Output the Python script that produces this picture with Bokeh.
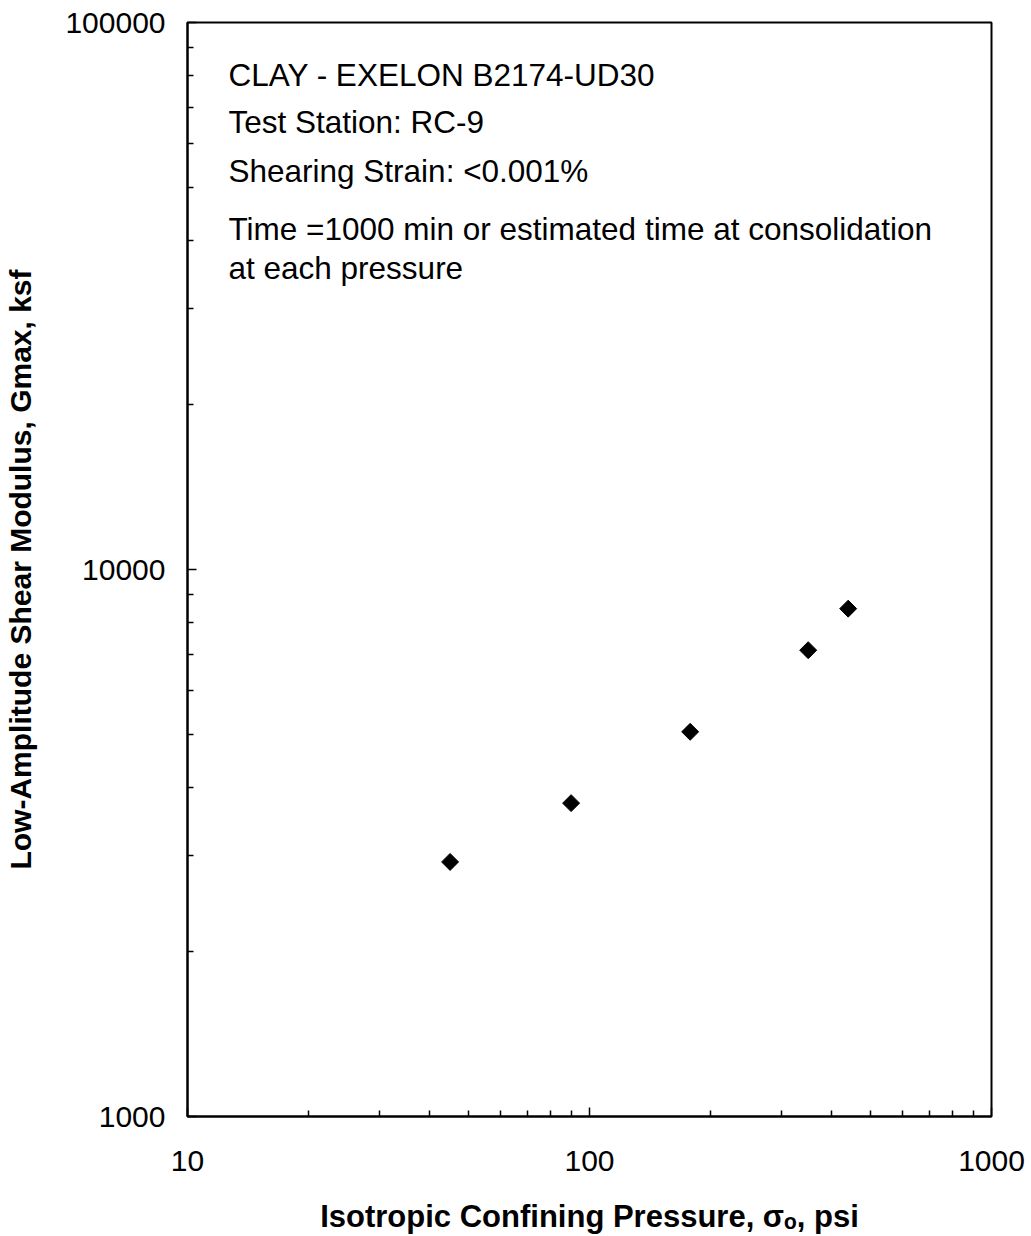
import math
from bokeh.plotting import figure
from bokeh.models import FixedTicker, NumeralTickFormatter, Label, ColumnDataSource
from bokeh.embed import file_html
from bokeh.resources import INLINE

# ---- data ----
pressure_psi = [45, 90, 178, 350, 440]
gmax_ksf = [2920, 3740, 5050, 7120, 8480]

x_major = [10, 100, 1000]
x_minor = [20, 30, 40, 50, 60, 70, 80, 90, 200, 300, 400, 500, 600, 700, 800, 900]
y_major = [1000, 10000, 100000]
y_minor = [2000, 3000, 4000, 5000, 6000, 7000, 8000, 9000,
           20000, 30000, 40000, 50000, 60000, 70000, 80000, 90000]
x_tick_labels = ["10", "100", "1000"]
y_tick_labels = ["1000", "10000", "100000"]

note_lines = [
    "CLAY - EXELON B2174-UD30",
    "Test Station: RC-9",
    "Shearing Strain: <0.001%",
    "Time =1000 min or estimated time at consolidation",
    "at each pressure",
]
note_baseline_from_bottom = [1042, 995, 946, 888, 849]

x_title = "Isotropic Confining Pressure, \u03c3\u2092, psi"
y_title = "Low-Amplitude Shear Modulus, Gmax, ksf"

FONT = "Liberation Sans"

p = figure(
    width=1031, height=1236,
    x_axis_type="log", y_axis_type="log",
    x_range=(10, 1000), y_range=(1000, 100000),
    output_backend="svg", toolbar_location=None,
    min_border_left=187, min_border_right=40,
    min_border_top=22, min_border_bottom=120,
)
p.background_fill_color = "white"
p.border_fill_color = "white"
p.outline_line_color = "black"
p.outline_line_width = 2
p.grid.visible = False

src = ColumnDataSource(dict(x=pressure_psi, y=gmax_ksf))
p.scatter("x", "y", source=src, marker="square", size=12, angle=math.pi / 4,
          fill_color="black", line_color="black", line_width=1)

for ax, major, minor, labels in ((p.xaxis[0], x_major, x_minor, x_tick_labels),
                                 (p.yaxis[0], y_major, y_minor, y_tick_labels)):
    ax.ticker = FixedTicker(ticks=major, minor_ticks=minor)
    ax.formatter = NumeralTickFormatter(format="0")
    ax.major_label_overrides = {float(v): t for v, t in zip(major, labels)}
    ax.axis_line_color = "black"
    ax.axis_line_width = 2
    ax.major_tick_in = 9
    ax.major_tick_out = 0
    ax.minor_tick_in = 6
    ax.minor_tick_out = 0
    ax.major_tick_line_width = 1.5
    ax.minor_tick_line_width = 1.5
    ax.major_tick_line_color = "black"
    ax.minor_tick_line_color = "black"
    ax.major_label_text_font = FONT
    ax.major_label_text_font_size = "30px"
    ax.major_label_text_color = "black"
    ax.axis_label_text_font = FONT
    ax.axis_label_text_font_style = "bold"
    ax.axis_label_text_color = "black"

p.xaxis.axis_label = x_title
p.yaxis.axis_label = y_title
p.xaxis.axis_label_text_font_size = "31px"
p.yaxis.axis_label_text_font_size = "30px"
p.xaxis.major_label_standoff = 34
p.xaxis.axis_label_standoff = 25
p.yaxis.major_label_standoff = 22
p.yaxis.axis_label_standoff = 25

for line, yb in zip(note_lines, note_baseline_from_bottom):
    p.add_layout(Label(x=41, y=yb, x_units="screen", y_units="screen", text=line,
                       text_font=FONT, text_font_size="31.5px", text_color="black",
                       text_baseline="alphabetic", text_align="left"))

open("out.html", "w").write(file_html(p, INLINE))
